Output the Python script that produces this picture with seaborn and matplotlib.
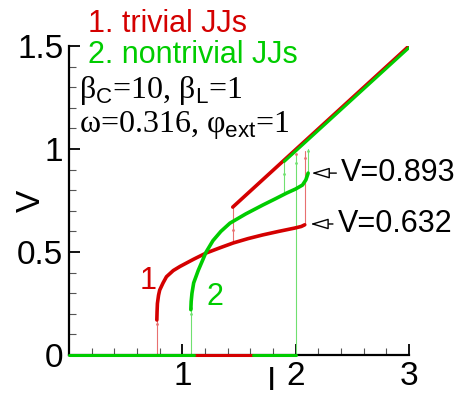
import matplotlib
matplotlib.use("Agg")
import matplotlib.pyplot as plt
import seaborn as sns
import pandas as pd

# trivial JJs (curve 1)
red_low_I = [0.775, 0.777, 0.78, 0.79, 0.80, 0.83, 0.86, 0.92, 0.98, 1.10, 1.21, 1.33, 1.45, 1.58, 1.71, 1.85, 1.99, 2.05, 2.08]
red_low_V = [0.17, 0.21, 0.25, 0.29, 0.315, 0.35, 0.38, 0.41, 0.43, 0.465, 0.495, 0.52, 0.544, 0.565, 0.583, 0.60, 0.616, 0.624, 0.632]
red_up_I = [1.445, 3.0]
red_up_V = [0.718, 1.5]
red_zero_I = [1.10, 1.62]
red_jumps_I = [0.775, 1.445, 2.08]
red_jumps_lo = [0.0, 0.545, 0.632]
red_jumps_hi = [0.17, 0.718, 0.99]
red_dots_I = [0.775, 1.445, 2.0, 2.08]
red_dots_V = [0.15, 0.607, 0.975, 0.955]

# nontrivial JJs (curve 2)
green_low_I = [1.075, 1.078, 1.085, 1.10, 1.14, 1.21, 1.27, 1.34, 1.42, 1.56, 1.71, 1.82, 1.92, 2.00, 2.06, 2.09, 2.11]
green_low_V = [0.22, 0.26, 0.30, 0.35, 0.41, 0.50, 0.555, 0.60, 0.64, 0.685, 0.728, 0.758, 0.786, 0.806, 0.825, 0.85, 0.883]
green_up_I = [1.9, 3.0]
green_up_V = [0.94, 1.492]
green_zero_I = [[0.0, 1.10], [1.62, 2.0]]
green_jumps_I = [1.075, 1.9, 2.0, 2.11]
green_jumps_lo = [0.0, 0.79, 0.0, 0.875]
green_jumps_hi = [0.22, 0.94, 0.975, 1.0]
green_dots_I = [1.075, 1.075, 1.9, 2.0, 2.11]
green_dots_V = [0.20, 0.23, 0.88, 0.93, 0.99]

RED = "#d40000"
GREEN = "#00cc00"
RED_THIN = "#e87070"
GREEN_THIN = "#70e070"

sns.set_theme(style="ticks")
plt.rcParams["font.family"] = ["Liberation Sans", "DejaVu Sans"]
plt.rcParams["mathtext.fontset"] = "custom"
plt.rcParams["mathtext.rm"] = "Liberation Serif"
plt.rcParams["mathtext.sf"] = "Liberation Sans"
plt.rcParams["text.color"] = "black"
plt.rcParams["axes.labelcolor"] = "black"
plt.rcParams["xtick.color"] = "black"
plt.rcParams["ytick.color"] = "black"

fig = plt.figure(figsize=(4.61, 3.99), dpi=100)
ax = fig.add_axes([0.1497, 0.1103, 0.7375, 0.7744])

# thin vertical switching lines
for i, lo, hi in zip(red_jumps_I, red_jumps_lo, red_jumps_hi):
    ax.plot([i, i], [lo, hi], color=RED_THIN, lw=0.8, zorder=2)
for i, lo, hi in zip(green_jumps_I, green_jumps_lo, green_jumps_hi):
    ax.plot([i, i], [lo, hi], color=GREEN_THIN, lw=0.8, zorder=2)

# zero-voltage segments
ax.plot(red_zero_I, [0, 0], color=RED, lw=2.2, zorder=3, clip_on=False)
for seg in green_zero_I:
    ax.plot(seg, [0, 0], color=GREEN, lw=2.2, zorder=3, clip_on=False)

df_rl = pd.DataFrame({"I": red_low_I, "V": red_low_V})
df_gl = pd.DataFrame({"I": green_low_I, "V": green_low_V})
sns.lineplot(data=df_rl, x="I", y="V", color=RED, lw=2.6, sort=False, ax=ax, zorder=4)
sns.lineplot(data=df_gl, x="I", y="V", color=GREEN, lw=2.6, sort=False, ax=ax, zorder=4)
ax.plot(red_up_I, red_up_V, color=RED, lw=2.6, zorder=4)
ax.plot(green_up_I, green_up_V, color=GREEN, lw=2.2, zorder=5)

ax.scatter(red_dots_I, red_dots_V, s=4, color=RED_THIN, zorder=3, linewidths=0)
ax.scatter(green_dots_I, green_dots_V, s=4, color=GREEN_THIN, zorder=3, linewidths=0)

ax.set_xlim(0, 3)
ax.set_ylim(0, 1.5)
ax.set_xticks([1, 2, 3])
ax.set_xticklabels(["1", "2", "3"])
ax.set_xticks([0.2, 0.4, 0.6, 0.8, 1.2, 1.4, 1.6, 1.8, 2.2, 2.4, 2.6, 2.8], minor=True)
ax.set_yticks([0, 0.5, 1, 1.5])
ax.set_yticklabels(["0", "0.5", "1", "1.5"])
ax.set_yticks([0.1, 0.2, 0.3, 0.4, 0.6, 0.7, 0.8, 0.9, 1.1, 1.2, 1.3, 1.4], minor=True)
ax.tick_params(which="major", direction="in", length=8, width=1.3, labelsize=24, pad=4, color="black")
ax.tick_params(which="minor", direction="in", length=5, width=0.8, color="#555555")
for s in ["top", "right"]:
    ax.spines[s].set_visible(False)
for s in ["left", "bottom"]:
    ax.spines[s].set_linewidth(1.6)
    ax.spines[s].set_color("black")

ax.set_xlabel("I", fontsize=24)
ax.xaxis.set_label_coords(0.597, -0.035)
ax.set_ylabel("V", fontsize=24)
ax.yaxis.set_label_coords(-0.065, 0.5)

ax.text(0.055, 1.07, "1. trivial JJs", transform=ax.transAxes, color=RED, fontsize=22, va="center")
ax.text(0.055, 0.97, "2. nontrivial JJs", transform=ax.transAxes, color=GREEN, fontsize=22, va="center")
ax.text(0.03, 0.855, r"β$_\mathsf{C}$=10, β$_\mathsf{L}$=1", transform=ax.transAxes,
        fontsize=23, family="Liberation Serif", va="center")
ax.text(0.03, 0.745, r"ω=0.316, φ$_\mathsf{ext}$=1", transform=ax.transAxes,
        fontsize=23, family="Liberation Serif", va="center")
ax.text(0.70, 0.36, "1", color=RED, fontsize=22, ha="center", va="center")
ax.text(1.29, 0.28, "2", color=GREEN, fontsize=22, ha="center", va="center")

arrow = dict(arrowstyle="-|>,head_length=0.5,head_width=0.15", fc="white", ec="black",
             lw=1.0, shrinkA=1, shrinkB=0)
ax.annotate("V=0.893", xy=(2.14, 0.883), xytext=(2.40, 0.883), fontsize=22, va="center", ha="left",
            arrowprops=arrow, annotation_clip=False)
ax.annotate("V=0.632", xy=(2.13, 0.636), xytext=(2.37, 0.636), fontsize=22, va="center", ha="left",
            arrowprops=arrow, annotation_clip=False)

fig.savefig("out.png", dpi=100)
